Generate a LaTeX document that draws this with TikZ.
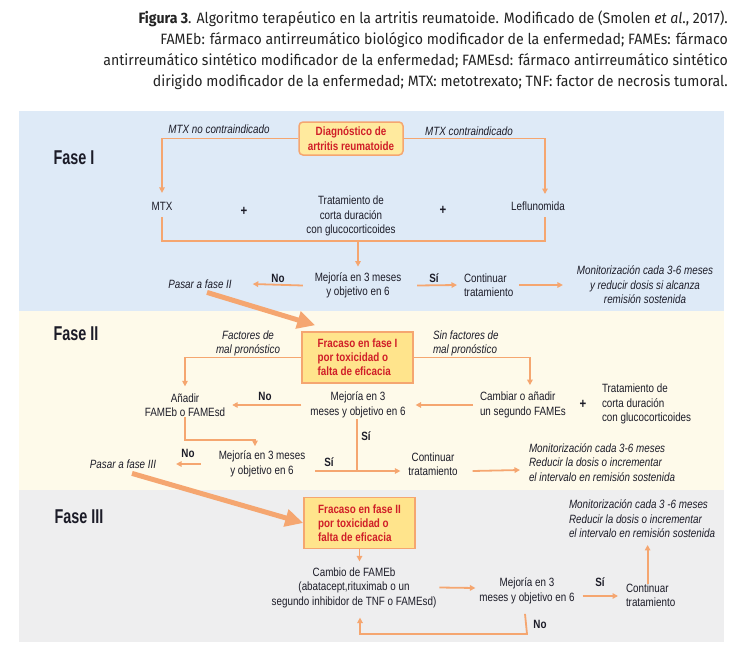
\documentclass[tikz,border=0pt]{standalone}
\usepackage{fontspec}
\setmainfont{Liberation Sans}
\newfontfamily\cond[FakeStretch=0.82]{Liberation Sans}
\newfontfamily\condx[FakeStretch=0.72]{Liberation Sans}
\newfontfamily\capfont[FakeStretch=0.94]{Fira Sans}
\usetikzlibrary{arrows.meta,calc}
\definecolor{bgA}{RGB}{222,234,247}
\definecolor{bgB}{RGB}{254,250,234}
\definecolor{bgC}{RGB}{238,238,239}
\definecolor{orl}{RGB}{245,166,112}
\definecolor{boxy}{RGB}{255,234,158}
\definecolor{boxz}{RGB}{255,228,140}
\definecolor{boxr}{RGB}{208,30,40}
\definecolor{ink}{RGB}{28,28,40}
\definecolor{capc}{RGB}{35,35,35}
\tikzset{
  txt/.style={font=\cond\fontsize{12}{14.5}\selectfont, text=ink, align=center, inner sep=0pt, outer sep=0pt},
  itx/.style={font=\cond\itshape\fontsize{12}{14.5}\selectfont, text=ink, align=center, inner sep=0pt, outer sep=0pt},
  bl/.style={font=\cond\bfseries\fontsize{12}{14.5}\selectfont, text=ink, inner sep=0pt},
  plus/.style={font=\cond\bfseries\fontsize{14}{14.5}\selectfont, text=ink, inner sep=0pt},
  phase/.style={font=\condx\bfseries\fontsize{20}{22}\selectfont, text=ink, inner sep=0pt},
  diagbox/.style={draw=orl, line width=1.5pt, fill=boxy, rounded corners=4pt, minimum width=104pt, minimum height=33pt, align=center, inner sep=2pt, font=\cond\bfseries\fontsize{12}{14.5}\selectfont, text=boxr},
  frbox/.style={draw=orl, line width=1.5pt, fill=boxz, minimum width=111pt, minimum height=51pt, align=left, inner sep=2pt, font=\cond\bfseries\fontsize{12}{14}\selectfont, text=boxr},
  ln/.style={draw=orl, line width=1.8pt},
  arr/.style={ln, -{Triangle[length=5.5pt,width=5.5pt]}},
  big/.style={draw=orl, line width=5pt, -{Triangle[length=18pt,width=17pt]}},
}
\begin{document}
\begin{tikzpicture}[x=1pt,y=-1pt]
\useasboundingbox (0,0) rectangle (745,656);
\fill[white] (0,0) rectangle (745,656);
% backgrounds
\fill[bgA] (19,111) rectangle (724,311);
\fill[bgB] (19,311) rectangle (724,490);
\fill[bgC] (19,490) rectangle (724,642);
% caption
\node[anchor=north east, align=right, inner sep=0pt, text=capc, font=\capfont\fontsize{15}{21}\selectfont] (cap) at (728,11)
 {\textbf{Figura 3}. Algoritmo terapéutico en la artritis reumatoide. Modificado de (Smolen \textit{et al}., 2017).\\
 FAMEb: fármaco antirreumático biológico modificador de la enfermedad; FAMEs: fármaco\\
 antirreumático sintético modificador de la enfermedad; FAMEsd: fármaco antirreumático sintético\\
 dirigido modificador de la enfermedad; MTX: metotrexato; TNF: factor de necrosis tumoral.};

% ---------- Fase I
\node[phase] (f1) at (74,158) {Fase I};
\node[diagbox] (diag) at (351,138.5) {Diagnóstico de\\artritis reumatoide};
\node[itx] (l1) at (219,129) {MTX no contraindicado};
\node[itx] (l2) at (469,131) {MTX contraindicado};
\node[txt] (mtx) at (162,206) {MTX};
\node[plus] (p1) at (244,211) {+};
\node[txt] (trat1) at (351,216) {Tratamiento de\\corta duración\\con glucocorticoides};
\node[plus] (p2) at (443,210) {+};
\node[txt] (lef) at (538,206) {Leflunomida};
\coordinate (lt) at (545,194);
\coordinate (lb) at (545,217);
\coordinate (b1) at (162,241);
\coordinate (b2) at (545,241);
\node[txt] (mej1) at (358,285.5) {Mejoría en 3 meses\\y objetivo en 6};
\node[itx] (pas2) at (200,284) {Pasar a fase II};
\node[bl] (no1) at (278,278) {No};
\node[bl] (si1) at (434,278) {Sí};
\node[txt, align=left, anchor=west] (cont1) at (464,285) {Continuar\\tratamiento};
\node[itx] (mon1) at (645,285) {Monitorización cada 3-6 meses\\y reducir dosis si alcanza\\remisión sostenida};

\draw[arr] (diag.west) -| ([yshift=9pt]mtx.north);
\draw[arr] (diag.east) -| (lt);
\draw[ln] ([yshift=-7pt]mtx.south) |- (b2) -- (lb);
\draw[arr] (b1 -| mej1.north) -- ([yshift=6pt]mej1.north);
\draw[arr] ([xshift=-12pt]mej1.west) -- ([xshift=21pt]pas2.east);
\draw[arr] ([xshift=16pt]mej1.east) -- ([xshift=-7pt]cont1.west);
\draw[arr] ([xshift=6pt]cont1.east) -- ([xshift=-14pt]mon1.west);

% ---------- Fase II
\node[phase] (f2) at (76,334) {Fase II};
\node[frbox] (fr1) at (357.5,357.5) {Fracaso en fase I\\por toxicidad o\\falta de eficacia};
\draw[big] ([xshift=7pt,yshift=-4pt]pas2.south) -- ([xshift=14pt,yshift=6pt]fr1.north west);
\node[itx] (l3) at (248,343.5) {Factores de\\mal pronóstico};
\node[itx, align=left, anchor=west] (l4) at (433,343.5) {Sin factores de\\mal pronóstico};
\node[txt] (an) at (185,405) {Añadir\\FAMEb o FAMEsd};
\node[txt] (mej2) at (358,405) {Mejoría en 3\\meses y objetivo en 6};
\node[txt, align=left, anchor=west] (camb) at (480,405) {Cambiar o añadir\\un segundo FAMEs};
\node[plus] (p3) at (583,404) {+};
\node[txt, align=left, anchor=west] (trat2) at (602,404) {Tratamiento de\\corta duración\\con glucocorticoides};
\node[bl] (no2) at (265,396) {No};
\node[bl] (si2) at (366,436) {Sí};
\node[txt] (mej3) at (262,464) {Mejoría en 3 meses\\y objetivo en 6};
\node[bl] (no3) at (188,453) {No};
\node[itx] (pas3) at (123,464) {Pasar a fase III};
\node[txt] (cont2) at (433,464) {Continuar\\tratamiento};
\node[bl] (si3) at (329,462) {Sí};
\node[itx, align=left, anchor=west] (mon2) at (529,462.5) {Monitorización cada 3-6 meses\\Reducir la dosis o incrementar\\el intervalo en remisión sostenida};
\coordinate (k) at (0,440);
\coordinate (j2) at (357,471);

\draw[arr] (fr1.west) -| ([yshift=7pt]an.north);
\draw[arr] (fr1.east) -| ([xshift=7pt,yshift=7pt]camb.north);
\draw[arr] ([xshift=-9pt]mej2.west) -- ([xshift=7pt]an.east);
\draw[arr] ([xshift=-7pt]camb.west) -- ([xshift=10pt]mej2.east);
\draw[ln] ([xshift=-1pt,yshift=-1pt]mej2.south) -- (j2);
\draw[arr] (an.south) -- (an.south |- k) -| ([xshift=-7pt,yshift=5pt]mej3.north);
\draw[arr] ([xshift=-18pt]mej3.west) -- ([xshift=20pt]pas3.east);
\draw[arr] ([xshift=10pt,yshift=-7pt]mej3.east) -- ([xshift=-8pt,yshift=-7pt]cont2.west);
\draw[arr] ([xshift=15pt,yshift=-7pt]cont2.east) -- ([xshift=-9pt,yshift=-7.5pt]mon2.west);

% ---------- Fase III
\node[phase] (f3) at (79,517) {Fase III};
\node[frbox] (fr2) at (359.5,523) {Fracaso en fase II\\por toxicidad o\\falta de eficacia};
\draw[big] ([xshift=9pt,yshift=-5pt]pas3.south) -- (fr2.west);
\node[txt] (cb) at (354,587.5) {Cambio de FAMEb\\(abatacept,rituximab o un\\segundo inhibidor de TNF o FAMEsd)};
\node[txt] (mej4) at (527,591) {Mejoría en 3\\meses y objetivo en 6};
\node[bl] (no4) at (540,624) {No};
\node[bl] (si4) at (600,582) {Sí};
\node[txt, align=left, anchor=west] (cont3) at (626,595) {Continuar\\tratamiento};
\node[itx, align=left, anchor=west] (mon3) at (569,519) {Monitorización cada 3 -6 meses\\Reducir la dosis o incrementar\\el intervalo en remisión sostenida};
\coordinate (q) at (0,634);

\draw[arr] (fr2.south) -- ($(fr2.south |- cb.north)+(0,-6)$);
\draw[arr] ([xshift=3pt]cb.east) -- ([xshift=-4pt,yshift=3pt]mej4.west);
\draw[arr] ([xshift=-2pt,yshift=-10pt]mej4.south) -- (mej4.south |- q) -| ($(cb.south)+(6,10)$);
\draw[arr] ([xshift=8pt,yshift=-5pt]mej4.east) -- ([xshift=-8pt,yshift=-1pt]cont3.west);
\draw[arr] ($(cont3.north)+(-3,1)$) -- ($(cont3.north |- mon3.south)+(-3,7)$);
\end{tikzpicture}
\end{document}
